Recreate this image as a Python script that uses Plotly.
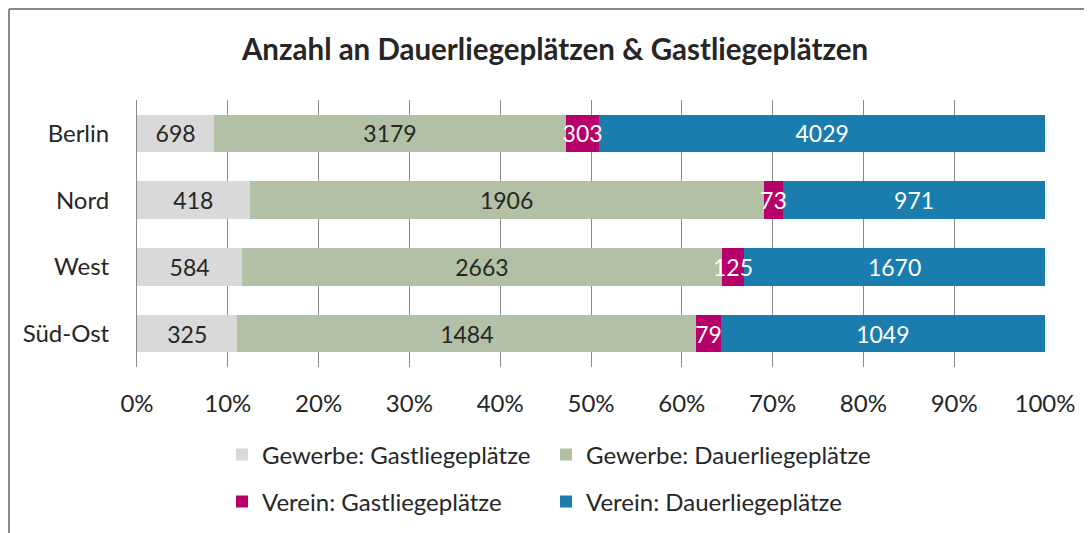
import plotly.graph_objects as go

categories = ["Berlin", "Nord", "West", "Süd-Ost"]
series_names = ["Gewerbe: Gastliegeplätze", "Gewerbe: Dauerliegeplätze",
                "Verein: Gastliegeplätze", "Verein: Dauerliegeplätze"]
gewerbe_gast = [698, 418, 584, 325]
gewerbe_dauer = [3179, 1906, 2663, 1484]
verein_gast = [303, 73, 125, 79]
verein_dauer = [4029, 971, 1670, 1049]
tick_vals = [0, 10, 20, 30, 40, 50, 60, 70, 80, 90, 100]
tick_text = [f"{v}%" for v in tick_vals]

colors = ["#D9D9D9", "#B2C1A5", "#B8006A", "#1A7DAD"]
text_colors = ["#262626", "#262626", "#FFFFFF", "#FFFFFF"]
legends = ["legend", "legend", "legend2", "legend2"]
FONT = "Lato"

# page body has an 8px margin: figure sits at screen (8, 8)
W, H = 1084, 525
PL, PR, PT, PB = 137, 1045, 100, 367  # plot area in screen pixels


def px(xs):
    return (xs - PL) / (PR - PL)


def py(ys):
    return (PB - ys) / (PB - PT)


all_series = [gewerbe_gast, gewerbe_dauer, verein_gast, verein_dauer]

fig = go.Figure()
# coloured bars
for name, vals, col, lg in zip(series_names, all_series, colors, legends):
    fig.add_trace(go.Bar(
        y=categories, x=vals, name=name, orientation="h",
        marker=dict(color=col, line=dict(width=0)),
        legend=lg, hoverinfo="skip",
    ))
# identical transparent bars on an overlaid axis pair, carrying the value labels
for name, vals, tcol in zip(series_names, all_series, text_colors):
    fig.add_trace(go.Bar(
        y=categories, x=vals, name=name, orientation="h",
        xaxis="x2", yaxis="y2", showlegend=False,
        marker=dict(color="rgba(0,0,0,0)", line=dict(width=0)),
        text=[str(v) for v in vals], textposition="inside", textangle=0,
        insidetextanchor="middle", constraintext="none",
        textfont=dict(color=tcol, size=23, family=FONT),
        cliponaxis=False,
    ))

fig.update_layout(
    width=W, height=H,
    barmode="stack", barnorm="percent", bargap=0.44,
    paper_bgcolor="white", plot_bgcolor="white",
    margin=dict(l=PL - 8, r=8 + W - PR, t=PT - 8, b=8 + H - PB, autoexpand=False),
    font=dict(family=FONT, size=24, color="#262626"),
    title=dict(text="<b>Anzahl an Dauerliegeplätzen & Gastliegeplätzen</b>",
               x=(555 - 8) / W, xanchor="center", y=1 - (50 - 8) / H, yanchor="middle",
               font=dict(size=29.5, family=FONT, color="#262626")),
    xaxis=dict(range=[0, 100], tickvals=tick_vals, ticktext=tick_text,
               showgrid=True, gridcolor="#898989", gridwidth=1,
               zeroline=False, showline=False, ticks="", ticklabelstandoff=20,
               tickfont=dict(size=24)),
    yaxis=dict(categoryorder="array", categoryarray=categories, autorange="reversed",
               showgrid=False, zeroline=False, ticks="", showline=True,
               linecolor="#898989", linewidth=1, ticklabelstandoff=22,
               tickfont=dict(size=24)),
    xaxis2=dict(range=[0, 100], overlaying="x", visible=False),
    yaxis2=dict(categoryorder="array", categoryarray=categories, autorange="reversed",
                overlaying="y", visible=False),
    legend=dict(orientation="h", x=px(222), xanchor="left",
                y=py(455), yanchor="middle",
                entrywidth=279, entrywidthmode="pixels",
                font=dict(size=24), bgcolor="rgba(0,0,0,0)", traceorder="normal"),
    legend2=dict(orientation="h", x=px(222), xanchor="left",
                 y=py(502), yanchor="middle",
                 entrywidth=279, entrywidthmode="pixels",
                 font=dict(size=24), bgcolor="rgba(0,0,0,0)", traceorder="normal"),
    shapes=[
        dict(type="line", xref="paper", yref="paper",
             x0=px(9), x1=1.2, y0=py(9), y1=py(9),
             line=dict(color="#898989", width=2)),
        dict(type="line", xref="paper", yref="paper",
             x0=px(9), x1=px(9), y0=py(9), y1=-0.8,
             line=dict(color="#898989", width=2)),
    ],
)

fig.write_html("out.html")
